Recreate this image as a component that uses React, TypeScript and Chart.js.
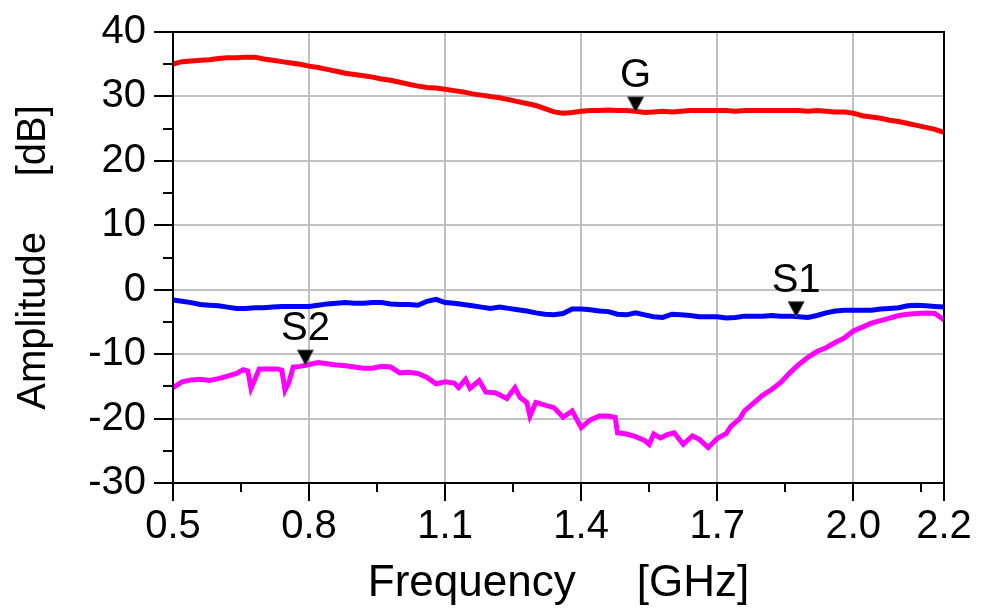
import React, { useEffect, useRef } from "react";
import { Chart, registerables } from "chart.js";

Chart.register(...registerables);

const FONT = '"Liberation Sans", Arial, Helvetica, sans-serif';

// Frequency grid (GHz) for the G and S1 traces
const baseFreq = [
  0.5, 0.52, 0.54, 0.56, 0.58, 0.6, 0.62, 0.64, 0.66, 0.68,
  0.7, 0.72, 0.74, 0.76, 0.78, 0.8, 0.82, 0.84, 0.86, 0.88,
  0.9, 0.92, 0.94, 0.96, 0.98, 1.0, 1.02, 1.04, 1.06, 1.08,
  1.1, 1.12, 1.14, 1.16, 1.18, 1.2, 1.22, 1.24, 1.26, 1.28,
  1.3, 1.32, 1.34, 1.36, 1.38, 1.4, 1.42, 1.44, 1.46, 1.48,
  1.5, 1.52, 1.54, 1.56, 1.58, 1.6, 1.62, 1.64, 1.66, 1.68,
  1.7, 1.72, 1.74, 1.76, 1.78, 1.8, 1.82, 1.84, 1.86, 1.88,
  1.9, 1.92, 1.94, 1.96, 1.98, 2.0, 2.02, 2.04, 2.06, 2.08,
  2.1, 2.12, 2.14, 2.16, 2.18, 2.2,
];

// G (gain) in dB
const gAmp = [
  35.0, 35.4, 35.5, 35.6, 35.7, 35.9, 36.0, 36.0, 36.1, 36.1,
  35.8, 35.6, 35.4, 35.2, 35.0, 34.7, 34.5, 34.2, 33.9, 33.6,
  33.4, 33.2, 33.0, 32.7, 32.5, 32.2, 31.9, 31.6, 31.4, 31.3,
  31.1, 30.9, 30.7, 30.4, 30.2, 30.0, 29.8, 29.5, 29.2, 28.9,
  28.6, 28.1, 27.6, 27.4, 27.5, 27.7, 27.8, 27.8, 27.9, 27.8,
  27.8, 27.7, 27.5, 27.6, 27.7, 27.6, 27.7, 27.8, 27.8, 27.8,
  27.8, 27.8, 27.7, 27.8, 27.8, 27.8, 27.8, 27.8, 27.8, 27.8,
  27.7, 27.8, 27.7, 27.6, 27.6, 27.4, 27.0, 26.8, 26.6, 26.3,
  26.1, 25.8, 25.5, 25.2, 24.9, 24.4,
];

// S1 in dB
const s1Amp = [
  -1.6, -1.8, -2.0, -2.3, -2.4, -2.5, -2.7, -2.9, -2.9, -2.8,
  -2.8, -2.7, -2.6, -2.6, -2.6, -2.6, -2.4, -2.2, -2.1, -2.0,
  -2.1, -2.1, -2.0, -2.0, -2.2, -2.3, -2.3, -2.4, -1.8, -1.5,
  -2.0, -2.1, -2.3, -2.5, -2.7, -2.9, -2.7, -2.9, -3.1, -3.3,
  -3.6, -3.8, -3.9, -3.7, -3.0, -3.0, -3.1, -3.3, -3.4, -3.8,
  -3.9, -3.6, -3.9, -4.2, -4.3, -3.8, -3.9, -4.0, -4.2, -4.2,
  -4.2, -4.4, -4.3, -4.1, -4.1, -4.1, -4.0, -4.1, -4.1, -4.2,
  -4.3, -4.0, -3.6, -3.3, -3.2, -3.2, -3.2, -3.2, -3.0, -2.9,
  -2.8, -2.5, -2.4, -2.5, -2.6, -2.7,
];

// S2 trace (own frequency points, to keep its narrow dips)
const s2Freq = [
  0.5, 0.52, 0.54, 0.56, 0.58, 0.6, 0.62, 0.64, 0.655, 0.665,
  0.672, 0.68, 0.69, 0.71, 0.73, 0.74, 0.747, 0.755, 0.765, 0.78,
  0.8, 0.82, 0.84, 0.86, 0.88, 0.9, 0.92, 0.94, 0.96, 0.98,
  1.0, 1.02, 1.04, 1.06, 1.08, 1.1, 1.12, 1.13, 1.145, 1.155,
  1.175, 1.19, 1.21, 1.22, 1.236, 1.254, 1.265, 1.28, 1.287, 1.3,
  1.32, 1.34, 1.36, 1.38, 1.4, 1.42, 1.44, 1.46, 1.475, 1.48,
  1.5, 1.52, 1.54, 1.55, 1.56, 1.575, 1.59, 1.605, 1.625, 1.645,
  1.66, 1.68, 1.7, 1.72, 1.73, 1.75, 1.76, 1.78, 1.8, 1.82,
  1.84, 1.86, 1.88, 1.9, 1.92, 1.94, 1.96, 1.98, 2.0, 2.02,
  2.04, 2.06, 2.08, 2.1, 2.12, 2.14, 2.16, 2.18, 2.2,
];
const s2Amp = [
  -15.2, -14.3, -14.0, -13.9, -14.1, -13.8, -13.4, -13.0, -12.4, -12.6,
  -15.3, -14.0, -12.3, -12.3, -12.3, -12.5, -15.6, -14.5, -12.0, -11.9,
  -11.6, -11.3, -11.5, -11.7, -11.8, -12.0, -12.2, -12.2, -11.9, -12.0,
  -12.9, -12.8, -13.0, -13.6, -14.6, -14.3, -14.5, -15.2, -13.9, -15.3,
  -14.1, -15.9, -16.0, -16.3, -16.9, -15.2, -16.7, -17.5, -19.6, -17.5,
  -17.9, -18.3, -19.8, -18.8, -21.4, -20.2, -19.6, -19.6, -19.8, -22.2,
  -22.4, -22.8, -23.4, -24.0, -22.4, -23.0, -22.5, -22.2, -24.0, -22.7,
  -23.2, -24.5, -23.1, -22.3, -21.2, -20.0, -18.8, -17.6, -16.4, -15.5,
  -14.4, -12.9, -11.6, -10.5, -9.6, -9.0, -8.2, -7.5, -6.4, -5.8,
  -5.2, -4.8, -4.4, -4.0, -3.8, -3.7, -3.6, -3.7, -4.7,
];

const xTickValues = [0.5, 0.8, 1.1, 1.4, 1.7, 2.0, 2.2];
const xMinorTicks = [0.65, 0.95, 1.25, 1.55, 1.85, 2.15];
const yMinorTicks = [-25, -15, -5, 5, 15, 25, 35];

const markerNames = ["G", "S1", "S2"];
const markerFreq = [1.52, 1.874, 0.792];
const markerAmp = [27.6, -4.2, -11.7];

const framePlugin = {
  id: "frameAndMinor",
  afterDraw(chart: any) {
    const { ctx, chartArea, scales } = chart;
    const x = scales.x;
    const y = scales.y;
    ctx.save();
    ctx.strokeStyle = "#000";
    ctx.lineWidth = 2;
    ctx.strokeRect(
      chartArea.left,
      chartArea.top,
      chartArea.right - chartArea.left,
      chartArea.bottom - chartArea.top
    );
    ctx.beginPath();
    yMinorTicks.forEach((v) => {
      const py = Math.round(y.getPixelForValue(v));
      ctx.moveTo(chartArea.left - 10, py);
      ctx.lineTo(chartArea.left, py);
    });
    xMinorTicks.forEach((v) => {
      const px = Math.round(x.getPixelForValue(v));
      ctx.moveTo(px, chartArea.bottom);
      ctx.lineTo(px, chartArea.bottom + 9);
    });
    ctx.stroke();

    // markers
    markerNames.forEach((name, i) => {
      const px = x.getPixelForValue(markerFreq[i]);
      const py = y.getPixelForValue(markerAmp[i]);
      ctx.fillStyle = "#000";
      ctx.strokeStyle = "#555";
      ctx.lineWidth = 1;
      ctx.beginPath();
      ctx.moveTo(px - 8, py - 15);
      ctx.lineTo(px + 8, py - 15);
      ctx.lineTo(px, py);
      ctx.closePath();
      ctx.fill();
      ctx.stroke();
      ctx.font = `40px ${FONT}`;
      ctx.textAlign = "center";
      ctx.textBaseline = "alphabetic";
      ctx.fillText(name, px, py - 25);
    });
    ctx.restore();
  },
};

export default function App() {
  const canvasRef = useRef<HTMLCanvasElement | null>(null);

  useEffect(() => {
    const canvas = canvasRef.current;
    if (!canvas) return;
    const toXY = (xs: number[], ys: number[]) => xs.map((v, i) => ({ x: v, y: ys[i] }));
    const chart = new Chart(canvas, {
      type: "line",
      data: {
        datasets: [
          {
            label: "G",
            data: toXY(baseFreq, gAmp),
            borderColor: "#ff0000",
            backgroundColor: "#ff0000",
            borderWidth: 5,
            pointRadius: 0,
            tension: 0,
          },
          {
            label: "S1",
            data: toXY(baseFreq, s1Amp),
            borderColor: "#0000ff",
            backgroundColor: "#0000ff",
            borderWidth: 5,
            pointRadius: 0,
            tension: 0,
          },
          {
            label: "S2",
            data: toXY(s2Freq, s2Amp),
            borderColor: "#ff00ff",
            backgroundColor: "#ff00ff",
            borderWidth: 5,
            pointRadius: 0,
            tension: 0,
          },
        ],
      },
      options: {
        responsive: false,
        devicePixelRatio: 1,
        animation: false,
        layout: { padding: { top: 32, right: 38, left: 0, bottom: 0 } },
        plugins: {
          legend: { display: false },
          tooltip: { enabled: false },
        },
        scales: {
          x: {
            type: "linear",
            min: 0.5,
            max: 2.2,
            afterBuildTicks: (s: any) => {
              s.ticks = xTickValues.map((v) => ({ value: v }));
            },
            afterFit: (s: any) => {
              s.height = 129;
            },
            ticks: {
              callback: (v: any) => Number(v).toFixed(1),
              font: { family: FONT, size: 40 },
              color: "#000",
              padding: 2,
              maxRotation: 0,
              autoSkip: false,
            },
            grid: {
              color: "#c0c0c0",
              lineWidth: 2,
              tickColor: "#000",
              tickLength: 18,
              tickWidth: 2,
            },
            border: { color: "#000", width: 2 },
            title: {
              display: true,
              text: "Frequency     [GHz]",
              font: { family: FONT, size: 44 },
              color: "#000",
              padding: { top: 0, bottom: 2 },
            },
          },
          y: {
            type: "linear",
            min: -30,
            max: 40,
            afterFit: (s: any) => {
              s.width = 173;
            },
            ticks: {
              stepSize: 10,
              font: { family: FONT, size: 40 },
              color: "#000",
              padding: 8,
            },
            grid: {
              color: "#c0c0c0",
              lineWidth: 2,
              tickColor: "#000",
              tickLength: 19,
              tickWidth: 2,
            },
            border: { color: "#000", width: 2 },
            title: {
              display: true,
              text: "Amplitude     [dB]",
              font: { family: FONT, size: 40 },
              color: "#000",
              padding: { top: 10, bottom: 0 },
            },
          },
        },
      },
      plugins: [framePlugin],
    } as any);
    return () => chart.destroy();
  }, []);

  return (
    <div style={{ position: "absolute", left: 0, top: 0, width: 982, height: 612, background: "#fff" }}>
      <canvas ref={canvasRef} width={982} height={612} style={{ width: 982, height: 612 }} />
    </div>
  );
}
